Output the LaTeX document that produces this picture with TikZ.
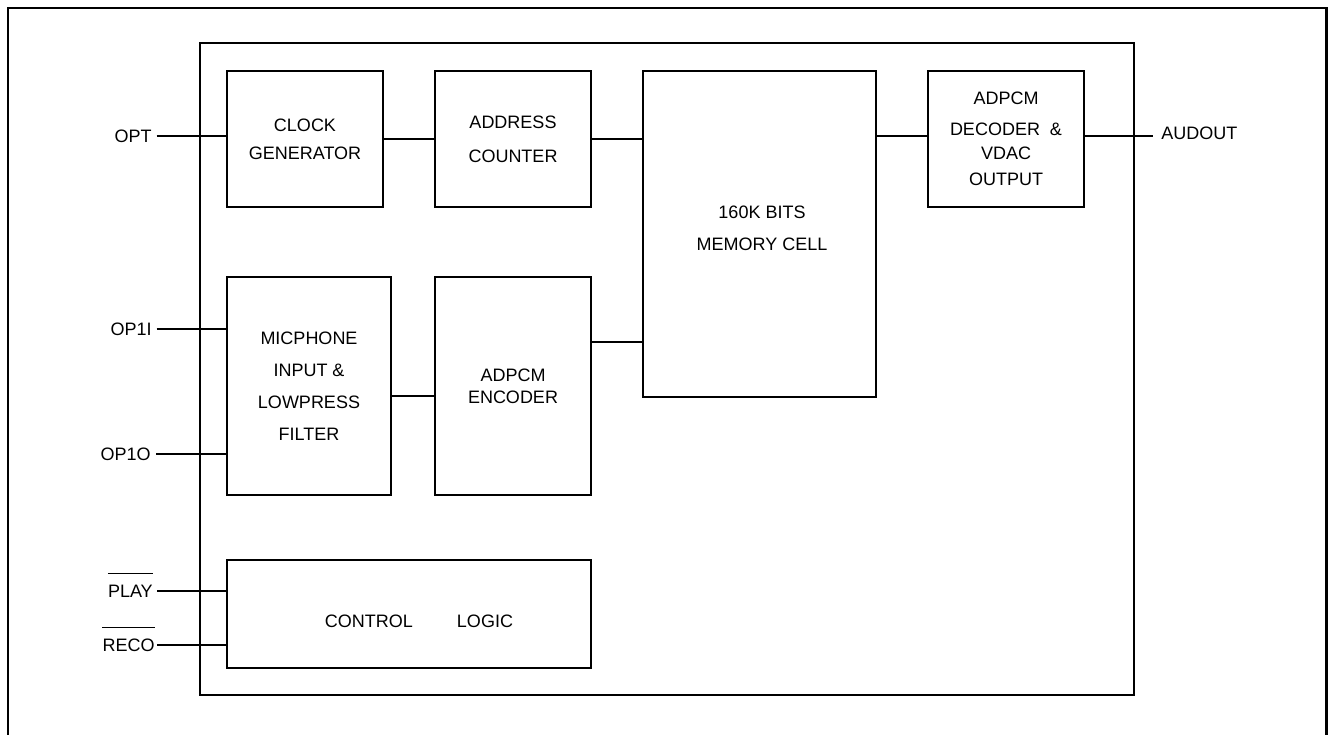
\documentclass[tikz,border=0pt]{standalone}
\usepackage{fontspec}
\setmainfont{Liberation Sans}
\usetikzlibrary{calc}
\newcommand{\fs}[1]{\fontsize{13.5}{#1}\selectfont}
\tikzset{
 blk/.style={draw, line width=0.9pt, minimum width=117pt, minimum height=102pt, align=center, inner sep=0pt},
 pinlbl/.style={inner xsep=0pt, inner ysep=1pt},
 frame/.style={line width=1.6pt},
}

\begin{document}
\begin{tikzpicture}[x=0.75pt, y=-0.75pt, font=\fs{24}]
\useasboundingbox (0,0) rectangle (1328,735);
\clip (0,0) rectangle (1328,735);
\draw[frame] (8,760) -- (8,8) -- (1326.5,8) -- (1326.5,760);
\draw[frame] (200,43) rectangle (1134,695);

\node[blk, font=\fs{21}] (clk) at (305,139) {CLOCK\\GENERATOR};
\node[blk, font=\fs{25.5}] (adr) at (513,139) {ADDRESS\\COUNTER};
\node[blk, minimum width=174.75pt, minimum height=244.5pt] (mem) at (759.5,234) {};
\node[align=center] (memtxt) at (762,228) {160K BITS\\MEMORY CELL};
\node[blk, font=\fs{18}] (dec) at (1006,139) {ADPCM\\[5.25pt]DECODER\ \ \&\\VDAC\\[1.5pt]OUTPUT};
\node[blk, minimum width=123pt, minimum height=163.5pt] (mic) at (309,386) {MICPHONE\\INPUT \&\\LOWPRESS\\FILTER};
\node[blk, minimum height=163.5pt, font=\fs{16.5}] (enc) at (513,386) {ADPCM\\ENCODER};
\node[blk, minimum width=273pt, minimum height=81pt] (ctl) at (409,614) {};
\node (ctltxt) at (419,621) {CONTROL\hspace{33pt}LOGIC};

\node[pinlbl, anchor=east] (opt) at (152,136) {OPT};
\node[pinlbl, anchor=east] (op1i) at (152,329) {OP1I};
\node[pinlbl, anchor=east] (op1o) at (151,454) {OP1O};
\node[pinlbl, anchor=east] (play) at (153,591) {PLAY};
\node[pinlbl, anchor=east] (reco) at (155,645) {RECO};
\node[pinlbl, anchor=west] (aud) at (1161,133) {AUDOUT};

\draw[line width=0.8pt] ([yshift=7pt]play.north west) -- ([yshift=7pt]play.north east);
\draw[line width=0.8pt] ([yshift=7pt]reco.north west) -- ([yshift=7pt]reco.north east);

\draw[line width=0.9pt, shorten <=3.5pt] (opt.east) -- (clk.west |- opt.east);
\draw[line width=0.9pt, shorten <=3.5pt] (op1i.east) -- (mic.west |- op1i.east);
\draw[line width=0.9pt, shorten <=4pt] (op1o.east) -- (mic.west |- op1o.east);
\draw[line width=0.9pt, shorten <=3pt] (play.east) -- (ctl.west |- play.east);
\draw[line width=0.9pt, shorten <=1.5pt] (reco.east) -- (ctl.west |- reco.east);
\draw[line width=0.9pt] (clk.east) -- (adr.west);
\draw[line width=0.9pt] (adr.east) -- (mem.west |- adr.east);
\draw[line width=0.9pt] (mem.east |- 0,136) -- (dec.west |- 0,136);
\draw[line width=0.9pt, shorten >=6pt] (dec.east |- 0,136) -- (aud.west |- 0,136);
\draw[line width=0.9pt] (mic.east |- 0,396) -- (enc.west |- 0,396);
\draw[line width=0.9pt] (enc.east |- 0,342) -- (mem.west |- 0,342);
\end{tikzpicture}
\end{document}
